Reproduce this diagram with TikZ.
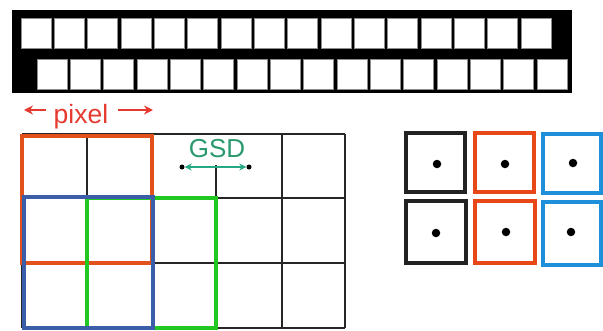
\documentclass[tikz,border=0pt]{standalone}
\usepackage{fontspec}
\setmainfont{Liberation Sans}
\usetikzlibrary{arrows.meta}
\definecolor{pxred}{HTML}{E53A2F}
\definecolor{orng}{HTML}{E2501C}
\definecolor{blu}{HTML}{3C5EA8}
\definecolor{grn}{HTML}{22C722}
\definecolor{gsdc}{HTML}{2A9A6E}
\definecolor{rblue}{HTML}{1E90DA}
\definecolor{rorng}{HTML}{E84818}
\definecolor{rblack}{HTML}{222222}
\tikzset{
  cellbox/.style={fill=white, draw=black!45, line width=0.8pt},
  gridline/.style={draw=black!85, line width=1.4pt},
  thickframe/.style={line width=4pt},
  rframe/.style={line width=4.6pt},
  dotmark/.style={circle, fill=black, inner sep=0pt, minimum size=8.5pt},
  smalldot/.style={circle, fill=black, inner sep=0pt, minimum size=5pt},
  pixtext/.style={text=pxred, font=\fontsize{26.5}{30}\selectfont, anchor=base, inner sep=0pt},
  gsdtext/.style={text=gsdc, font=\fontsize{26}{29}\selectfont, anchor=base, inner sep=0pt},
  pixarrow/.style={draw=pxred, line width=1.6pt, -{Stealth[length=9pt,width=9pt]}},
  gsdarrow/.style={draw=gsdc!85!cyan, line width=1.3pt, {Stealth[length=7pt,width=7pt]}-{Stealth[length=7pt,width=7pt]}}
}
\begin{document}
\begin{tikzpicture}[x=1pt,y=-1pt]
\useasboundingbox (0,0) rectangle (603,330);
\clip (0,0) rectangle (603,330);
% top black band with two rows of cells
\fill[black] (12,10) rectangle (572,93);
\foreach \i in {0,...,15} {
  \path[cellbox] ({21+33.33*\i},18) rectangle ++(30,30);
  \path[cellbox] ({37+33.33*\i},59) rectangle ++(30,30);
}
% black grid
\foreach \yy in {134,198,263,328} {
  \draw[gridline] (22,\yy) -- (345,\yy);
}
\foreach \xx in {22,87,152,282,345} {
  \draw[gridline] (\xx,134) -- (\xx,328);
}
\draw[gridline] (216,165) -- (216,328);
% coloured frames
\draw[thickframe, orng] (22,136) rectangle (152,263);
\draw[thickframe, grn] (87,198) rectangle (216,328);
\draw[thickframe, blu] (24,197) rectangle (153,328);
% pixel label
\node[pixtext] (pixel) at (81,123) {pixel};
\coordinate (pla) at (46,110);
\coordinate (plb) at (24,110);
\coordinate (pra) at (118,110);
\coordinate (prb) at (153,110);
\draw[pixarrow] (pla) -- (plb);
\draw[pixarrow] (pra) -- (prb);
% GSD label
\node[gsdtext] (gsd) at (217,157) {GSD};
\node[smalldot] (d1) at (182,167) {};
\node[smalldot] (d2) at (249,167) {};
\draw[gsdarrow] (d1) -- (d2);
% right panel
\draw[rframe, rblack] (406,133) rectangle (465,192);
\draw[rframe, rblack] (406,201) rectangle (466,263);
\draw[rframe, rorng] (475,133) rectangle (534,192);
\draw[rframe, rorng] (475,201) rectangle (535,263);
\draw[rframe, rblue] (543,134) rectangle (601,193);
\draw[rframe, rblue] (543,202) rectangle (601,265);
\node[dotmark] (c1) at (437,164) {};
\node[dotmark] (c2) at (505,164) {};
\node[dotmark] (c3) at (573,163) {};
\node[dotmark] (c4) at (436,233) {};
\node[dotmark] (c5) at (506,232) {};
\node[dotmark] (c6) at (571,232) {};
\end{tikzpicture}
\end{document}
